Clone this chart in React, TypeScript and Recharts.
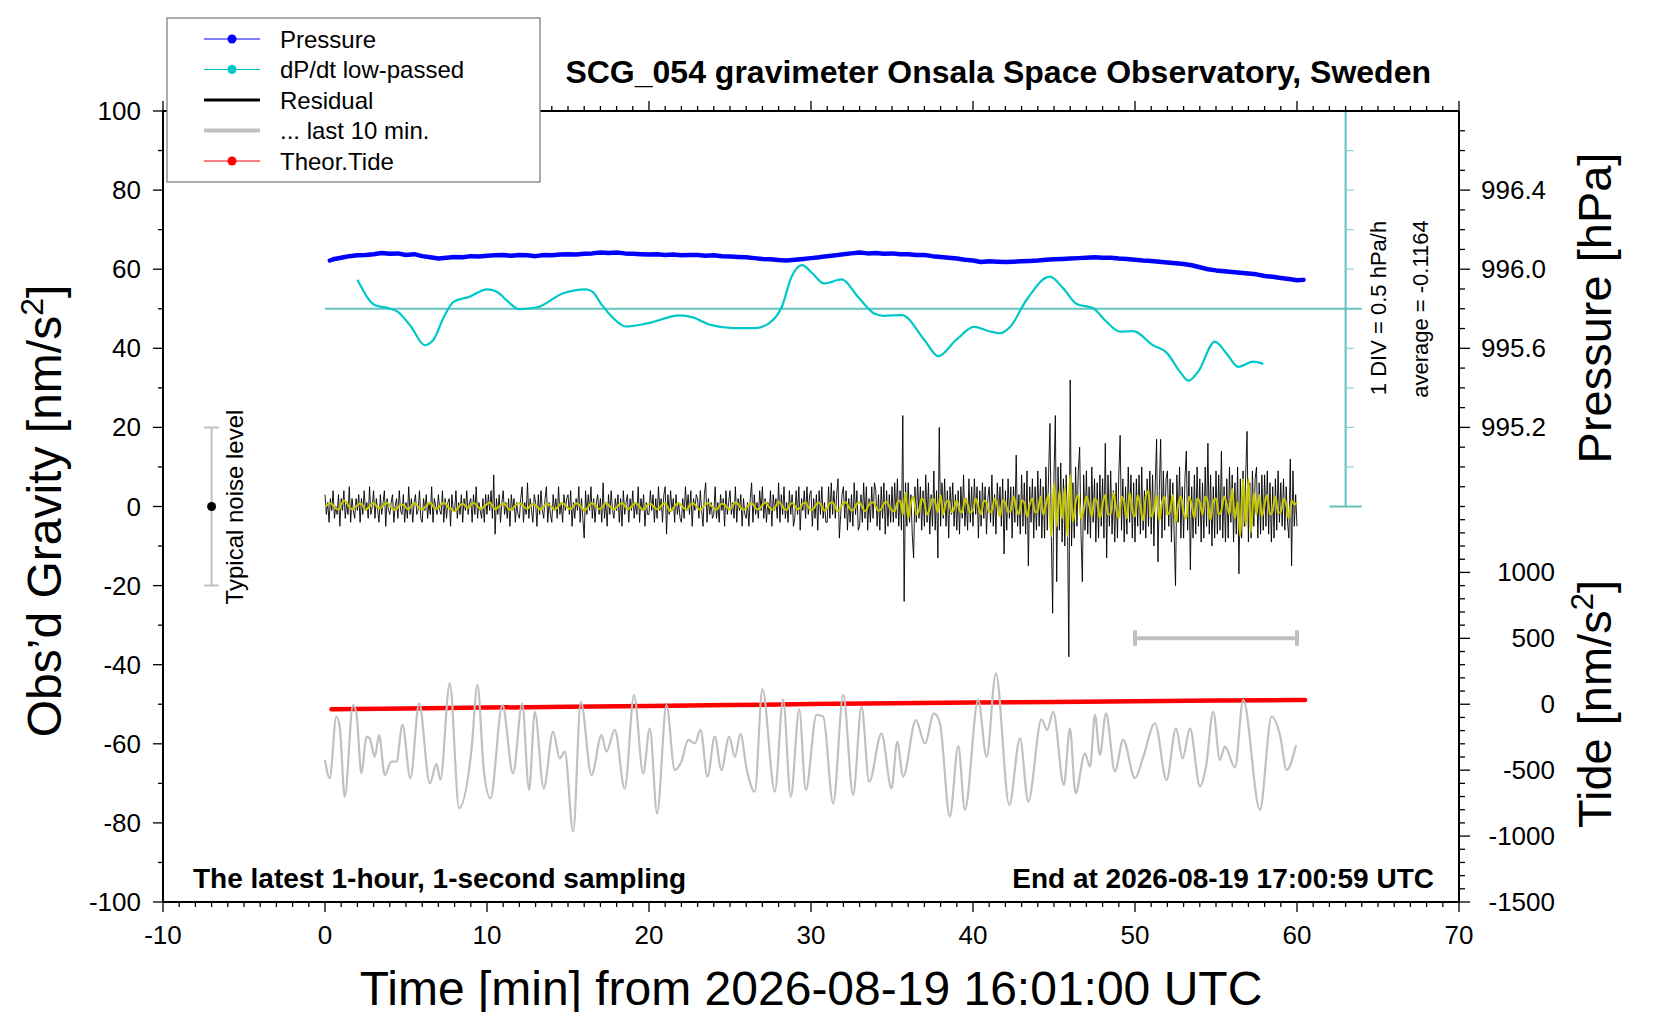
import React from 'react';
import { LineChart, Line, XAxis, YAxis } from 'recharts';

const FONT = '"Liberation Sans", Arial, Helvetica, sans-serif';

// ---------------- data ----------------
// time [min] , pressure [hPa]
const pressureHpa: [number, number][] = [
  [0.3, 996.044], [0.5, 996.05], [1, 996.058], [1.5, 996.066], [2, 996.07], [2.5, 996.072], [3, 996.076], [3.5, 996.082],
  [4, 996.078], [4.5, 996.08], [5, 996.072], [5.5, 996.076], [6, 996.066], [6.5, 996.06], [7, 996.054], [7.5, 996.058],
  [8, 996.062], [8.5, 996.06], [9, 996.066], [9.5, 996.064], [10, 996.068], [10.5, 996.07], [11, 996.072], [11.5, 996.068],
  [12, 996.072], [12.5, 996.07], [13, 996.066], [13.5, 996.072], [14, 996.07], [14.5, 996.074], [15, 996.076], [15.5, 996.074],
  [16, 996.078], [16.5, 996.08], [17, 996.084], [17.5, 996.082], [18, 996.084], [18.5, 996.08], [19, 996.078], [19.5, 996.076],
  [20, 996.074], [20.5, 996.076], [21, 996.072], [21.5, 996.074], [22, 996.07], [22.5, 996.072], [23, 996.072], [23.5, 996.068],
  [24, 996.07], [24.5, 996.066], [25, 996.064], [25.5, 996.062], [26, 996.06], [26.5, 996.056], [27, 996.052], [27.5, 996.05],
  [28, 996.046], [28.5, 996.044], [29, 996.048], [29.5, 996.052], [30, 996.056], [30.5, 996.06], [31, 996.066], [31.5, 996.07],
  [32, 996.076], [32.5, 996.08], [33, 996.084], [33.5, 996.08], [34, 996.082], [34.5, 996.078], [35, 996.08], [35.5, 996.076],
  [36, 996.076], [36.5, 996.072], [37, 996.072], [37.5, 996.066], [38, 996.062], [38.5, 996.058], [39, 996.054], [39.5, 996.048],
  [40, 996.044], [40.5, 996.036], [41, 996.04], [41.5, 996.038], [42, 996.036], [42.5, 996.038], [43, 996.04], [43.5, 996.042],
  [44, 996.044], [44.5, 996.048], [45, 996.05], [45.5, 996.052], [46, 996.054], [46.5, 996.056], [47, 996.058], [47.5, 996.06],
  [48, 996.058], [48.5, 996.058], [49, 996.054], [49.5, 996.052], [50, 996.048], [50.5, 996.044], [51, 996.042], [51.5, 996.038],
  [52, 996.034], [52.5, 996.03], [53, 996.026], [53.5, 996.02], [54, 996.01], [54.5, 996.0], [55, 995.994], [55.5, 995.99],
  [56, 995.986], [56.5, 995.982], [57, 995.978], [57.5, 995.974], [58, 995.966], [58.5, 995.962], [59, 995.956], [59.5, 995.95],
  [60, 995.944], [60.4, 995.946],
];

// time [min], dP/dt low-passed [hPa/h]
const DPDT_AVERAGE = -0.1164;
const dpdtLowPassed: [number, number][] = [
  [2.0, 0.249], [3.1, -0.072], [3.95, -0.111], [4.5, -0.156], [5.3, -0.341], [6.16, -0.576], [6.7, -0.506], [7.3, -0.236],
  [7.95, -0.026], [8.9, 0.034], [10.0, 0.129], [10.6, 0.099], [11.3, -0.026], [11.95, -0.121], [13.05, -0.101], [14.7, 0.079],
  [16.1, 0.129], [16.5, 0.099], [17.1, -0.071], [17.7, -0.216], [18.56, -0.341], [19.9, -0.301], [21.9, -0.201], [22.7, -0.226],
  [23.8, -0.321], [25.2, -0.361], [26.55, -0.361], [27.4, -0.301], [28.2, -0.091], [28.8, 0.289], [29.45, 0.436], [30.1, 0.329],
  [30.8, 0.204], [31.9, 0.254], [32.9, 0.034], [33.9, -0.176], [34.5, -0.206], [35.6, -0.196], [37.0, -0.511], [37.85, -0.716],
  [38.96, -0.511], [40.06, -0.346], [41.0, -0.401], [41.66, -0.426], [42.3, -0.344], [43.3, -0.006], [44.74, 0.289], [45.57, 0.141],
  [46.4, -0.056], [47.42, -0.111], [48.24, -0.281], [49.07, -0.406], [49.9, -0.399], [51.1, -0.576], [51.95, -0.671], [52.77, -0.911],
  [53.3, -1.026], [53.9, -0.911], [54.93, -0.531], [55.65, -0.681], [56.37, -0.851], [57.3, -0.786], [57.92, -0.816],
];

// residual [nm/s^2], one value every 5 s from t = 0 min (12 per minute)
const residualNm: number[] = [
  3, -2, 1, -4, 2, -1, 4, -3, 0, -2, 3, -5,
  2, -1, 4, -3, 1, -2, 5, -4, 2, -1, -3, 2,
  -1, 3, -4, 2, -2, 4, -1, 1, -3, 5, -2, 0,
  4, -3, 2, -1, -4, 3, -2, 1, 4, -5, 2, -1,
  -2, 1, 3, -4, 0, 2, -3, 4, -1, -2, 3, -4,
  1, -3, 5, -2, 2, -4, 1, 3, -2, -1, 4, -3,
  -4, 2, -1, 3, -3, 1, -2, 5, -4, 2, 0, -2,
  3, -1, -2, 4, -4, 2, -3, 1, 2, -5, 3, -1,
  -1, 4, -3, 1, -2, 3, -4, 2, -1, 4, -2, 1,
  2, -4, 3, -2, 5, -3, 1, -1, -3, 2, -4, 3,
  -2, 3, -1, 4, -3, 8, -7, 2, -2, 3, -4, 1,
  4, -2, 1, -3, 2, -5, 3, -1, 2, -4, 1, -2,
  -3, 2, 5, -4, 1, -2, 6, -3, 2, -1, -4, 3,
  1, -5, 3, -2, 4, -1, -3, 2, 5, -4, 1, -2,
  -4, 3, -1, 2, -3, 5, -2, 1, -4, 3, -1, 2,
  3, -2, 4, -5, 1, -3, 2, -1, 5, -4, 2, -3,
  -8, 4, -2, 3, -1, 5, -3, 2, -4, 1, 3, -2,
  2, -4, 6, -3, 1, -5, 3, -2, 4, -1, -3, 2,
  -1, 3, -4, 2, -5, 4, -2, 1, 3, -4, 2, -1,
  4, -3, 1, -2, 5, -4, 2, -1, 3, -5, 1, -2,
  -2, 4, -1, 3, -4, 2, -3, 5, -1, 2, -4, 3,
  5, -7, 3, -2, 4, -1, 2, -4, 3, -2, 1, -3,
  -4, 2, -3, 5, -1, 3, -2, 4, -5, 2, -1, 3,
  2, -3, 4, -1, -5, 3, 6, -4, 2, -2, 1, -3,
  -2, 5, -3, 1, -4, 3, -1, 2, -5, 4, -2, 1,
  4, -2, 1, -3, 5, -4, 2, -1, 3, -5, 2, -2,
  -3, 1, -5, 2, 6, -4, 3, -2, 1, -3, 4, -1,
  5, -3, 2, -4, 1, -2, 4, -5, 3, -1, 2, -3,
  6, -4, 3, -2, 5, -3, 1, -4, 4, -2, 3, -5,
  -3, 4, -2, 5, -6, 2, -1, 4, -3, 5, -2, 3,
  4, -5, 2, -3, 3, -6, 4, -2, 5, -3, 1, -4,
  -4, 5, -3, 6, -2, 4, -3, 3, 7, -8, -2, 3,
  5, -3, 4, -6, 2, -4, 3, -5, 6, -2, 4, -6,
  -5, 3, -4, 6, -3, 5, -6, 2, -4, 5, -3, 6,
  4, -5, 3, -6, 5, -3, 6, -7, 4, -5, 3, -4,
  5, -4, 6, -3, 7, -5, 4, -6, 23, -24, 6, -5,
  6, -4, 3, -7, -13, 5, -4, 7, -3, 5, -6, 4,
  -5, 8, -4, 6, -7, 3, -5, 9, -6, 4, -13, 20,
  -5, 6, -3, 7, -5, 4, -8, 5, -2, 6, -5, 3,
  -6, 4, -7, 5, -3, 8, -5, 2, -6, 7, -4, 5,
  -5, 7, -2, 5, -8, 4, -5, 6, -3, 5, -7, 2,
  5, -4, 8, -5, 3, -7, 6, -2, 5, -5, 7, -12,
  4, -6, 7, -3, 5, -8, 5, -4, 13, -5, 3, -7,
  8, -5, 6, -7, 9, -15, 5, -4, 7, -8, 5, -6,
  9, -5, 7, -8, 5, -8, 10, -6, 8, 21, -7, -27,
  8, 23, -19, 10, -6, 11, -9, 7, -10, 8, -5, -38,
  32, -10, 6, -8, 10, -5, 9, 15, -7, -19, 8, -6,
  9, -7, 5, -8, 10, -4, 7, -9, 6, -8, 8, -5,
  7, -8, 16, -13, 8, -5, 9, -7, 4, -9, 6, -8,
  8, 18, -6, 7, -9, 5, -7, 10, -4, 8, -8, 6,
  -9, 7, -5, 8, -7, 10, -6, 4, -8, 7, -5, 9,
  -7, 8, -10, 6, 17, -14, 4, 17, -8, 9, -6, 7,
  9, -5, 7, -9, 6, -7, -20, 8, -4, 10, -8, 5,
  -8, 7, 14, -6, 9, -16, 5, -8, 8, -7, 10, -5,
  7, -9, 6, -8, 10, -5, 16, -7, 8, -10, 5, -8,
  9, -7, 8, -6, 14, -8, 5, -9, 7, -8, 10, -4,
  8, -9, 6, -7, 10, -17, 7, -8, 9, -5, 8, 19,
  -9, 6, -8, 9, -5, 7, 10, -8, 6, -7, 8, -6,
  8, -5, 9, -7, 6, -9, 5, -8, 7, -6, 9, -4,
  6, -5, 7, -6, 5, -4, -8, 12, -15, 9, -5, 3,
  -5,
];

// low-passed residual [nm/s^2], one value every 10 s from t = 0 min (6 per minute)
const residualLowPassed: number[] = [
  0, 0.5, 0.8, 0.3, -0.5, -0.8, 0.5, 1.5, 1, 0, -0.7, -0.3, 0.3, 0.8, 0.2, -0.8, -0.4, 0.5,
  0.8, 0.2, -0.5, -0.2, 0.6, 0.9, 0.3, -0.6, -0.9, -0.2, 0.5, 0.4, -0.3, -0.7, 0.2, 0.8, 0.4, -0.4,
  -0.8, -0.2, 0.6, 0.9, 0.1, -0.6, -0.3, 0.5, 1, 0.4, -0.4, -0.7, -1.2, -0.6, 0.3, 0.7, 0.2, -0.3,
  0.4, 0.9, 0.5, -0.3, -0.6, 0.1, 0.6, 1, 0.2, -0.7, -0.3, 0.4, 0.8, 0.3, -0.6, -0.9, -0.1, 0.5,
  0.9, 0.4, -0.3, -0.6, 0.2, 0.7, 0.3, -0.4, -0.8, 0, 0.7, 0.4, -0.2, -0.8, -0.3, 0.5, 0.9, 0.3,
  -0.4, -0.7, 0.1, 0.8, 0.5, -0.2, -1, -0.5, 0.4, 0.9, 0.3, -0.4, -0.6, 0.2, 0.8, 0.4, -0.3, -0.7,
  -0.2, 0.5, 0.9, 0.2, -0.6, -0.4, 0.3, 0.9, 0.4, -0.5, -0.8, 0, 0.7, 0.5, -0.2, -0.7, -0.2, 0.6,
  0.9, -0.3, -1.2, -0.4, 0.5, 0.8, 0.3, -0.5, -0.7, 0.1, 0.8, 0.5, -0.4, -0.9, -0.2, 0.6, 0.9, 0.2,
  -0.5, -0.8, 0.1, 0.7, 0.4, -0.3, -0.7, 0.2, 1.1, 0.6, -0.4, -0.8, -0.3, 0.5, 0.8, 0.1, -0.7, -0.5,
  0.4, 1, 0.3, -0.6, -0.8, 0.2, 1.2, 0.5, -0.6, -0.9, 0.3, 0.9, 0.2, -0.7, -0.4, 0.8, 1, -0.2,
  -0.9, -0.5, 0.6, 1, 0, -1, -0.4, 0.9, 1.1, -0.3, -1.2, -0.2, 0.8, 1.1, -0.2, -1, -0.6, 0.7,
  1, -0.3, -1.2, -0.2, 0.9, 1.1, -0.1, -1.1, -0.6, 0.7, 1.2, 0,
  -1, -1.2, 1, 1.5, -2, 3.5, -3, 1, 2.5, -2, -1, 2, 1, -2, -0.5, 2, 1, -1.5,
  3, -2, 1, 1.5, -1.5, -0.5, 1.5, -1, -1.5, 2, 0.5, -1.5, -1, 2, 0, -2, 1.5, 1,
  -1.5, -1, 2, 0.5, -2.5, 1.5, 1, -1.5, -1, 2.5, -0.5, -2, 1.5, 1, -2.5, 0.5, 2, -1.5,
  -1, 2.5, -2, 0.5, 3, -7.5, 6, -5, 4, -3, 5, -7.5, 8, -4, 1, 3, -3, -1,
  2.5, 0.5, -2.5, 2, 1, -3, 0.5, 3, -2, -2, 3.5, -0.5, -3, 2.5, 1, -3, 3.5, -1,
  -2.5, 3, 0, -3.5, 2.5, 4, -2.5, -1, 3, -3.5, 1, 2.5, -2, -1, 3, -4, 0.5, 2.5,
  -1.5, -3, 2.5, 0.5, -3, 2, 1, -2, 2.5, 1, -3.5, 1.5, 2, -2, -1, 2.5, 0.5, -2,
  4.5, -3, 1, -7.5, 7, -5, 7, -6.5, 3.5, -2, 3, -2.5, 0.5, 3, -2, -1, 2.5, -1.5,
  -1.5, 2, 0.5, -3, 1.5, 0.5,
  1,
];

// "... last 10 min." trace as plotted (offset residual), time [min], value
const last10MinTrace: [number, number][] = [
  [0, -64.1], [0.29, -68.7], [0.7, -53.1], [0.91, -55.7], [1.22, -73.4], [1.73, -50.2], [1.94, -52.3], [2.25, -67.5],
  [2.56, -58.2], [2.76, -58.6], [3.07, -63.3], [3.34, -57.8], [3.69, -67.9], [4.1, -64.5], [4.41, -64.5], [4.78, -55.2],
  [5.27, -68.7], [5.81, -49.8], [6.47, -70.0], [6.88, -65.1], [7.12, -69.1], [7.7, -44.7], [8.28, -76.3], [9.04, -61.6],
  [9.41, -45.1], [9.8, -66.6], [10.21, -73.8], [10.95, -50.2], [11.61, -67.5], [12.17, -49.8], [12.6, -71.7], [12.95, -51.9],
  [13.5, -71.3], [14.08, -56.9], [14.49, -63.7], [14.8, -62.0], [15.32, -82.2], [15.79, -49.3], [16.45, -67.9], [17.07, -57.8],
  [17.37, -62.0], [17.89, -56.5], [18.5, -71.3], [19.08, -47.7], [19.64, -67.5], [20.05, -56.1], [20.5, -77.6], [21.08, -50.2],
  [21.59, -66.6], [22.0, -64.5], [22.42, -59.0], [22.83, -59.9], [23.18, -56.5], [23.61, -68.3], [24.06, -58.2], [24.47, -66.6],
  [24.95, -58.2], [25.3, -63.3], [25.65, -57.5], [26.02, -66.2], [26.53, -72.1], [27.0, -46.2], [27.77, -72.1], [28.28, -48.8],
  [28.75, -73.4], [29.27, -51.3], [29.68, -71.7], [30.34, -52.7], [30.75, -53.1], [31.37, -75.1], [31.99, -47.7], [32.6, -72.9],
  [33.12, -50.6], [33.59, -69.6], [34.35, -57.4], [34.97, -71.3], [35.32, -59.5], [35.69, -68.3], [36.47, -54.0], [37.03, -59.9],
  [37.59, -52.3], [37.96, -54.8], [38.57, -78.4], [39.09, -60.6], [39.5, -76.7], [40.32, -48.9], [40.84, -63.3], [41.41, -42.2],
  [42.24, -75.5], [42.9, -58.6], [43.41, -74.6], [44.23, -53.8], [44.58, -56.5], [44.95, -51.9], [45.61, -70.4], [45.98, -56.1],
  [46.33, -72.5], [46.91, -62.4], [47.22, -65.8], [47.53, -52.7], [47.83, -62.8], [48.21, -52.3], [48.76, -67.0], [49.27, -59.0],
  [50.0, -68.7], [50.51, -63.3], [51.23, -54.8], [51.95, -69.1], [52.53, -56.1], [52.94, -63.7], [53.39, -56.1], [54.01, -70.8],
  [54.38, -65.8], [54.83, -51.9], [55.24, -64.1], [55.55, -60.7], [56.17, -66.0], [56.68, -48.9], [57.71, -76.7], [58.43, -53.1],
  [58.95, -57.8], [59.36, -66.6], [59.94, -60.3],
];

// time [min], theoretical tide [nm/s^2]
const theorTide: [number, number][] = [
  [0.4, -38.5], [5, -32], [10, -25.5], [15, -19], [20, -12.5], [25, -6], [30, 1], [35, 7],
  [40, 13], [45, 18], [50, 23], [55, 28], [60, 32.5], [60.5, 33],
];

// tick labels
const gravityTickLabels = [-100, -80, -60, -40, -20, 0, 20, 40, 60, 80, 100];
const timeTickLabels = [-10, 0, 10, 20, 30, 40, 50, 60, 70];
const pressureTickLabels = [995.2, 995.6, 996.0, 996.4];
const tideTickLabels = [-1500, -1000, -500, 0, 500, 1000];

// ---------------- mapping onto the gravity axis ----------------
const pToG = (p: number) => 60 + (p - 996.0) * 50; // 0.4 hPa per 20 nm/s^2
const tideToG = (t: number) => -50 + t / 30; // 500 nm/s^2 per 16.67
const dpdtToG = (d: number) => 50 + (d - DPDT_AVERAGE) * 20; // 0.5 hPa/h per 10

const pressureData = pressureHpa.map(([t, p]) => ({ t, v: pToG(p) }));
const dpdtData = dpdtLowPassed.map(([t, d]) => ({ t, v: dpdtToG(d) }));
const residualData = residualNm.map((v, i) => ({ t: i / 12, v }));
const lowPassData = residualLowPassed.map((v, i) => ({ t: i / 6, v }));
const last10Data = last10MinTrace.map(([t, v]) => ({ t, v }));
const tideData = theorTide.map(([t, v]) => ({ t, v: tideToG(v) }));

// decorations in data coordinates
const avgLine = [{ t: 0, v: 50 }, { t: 64, v: 50 }];
const divBar = [
  { t: 62, v: 100 }, { t: 64, v: 100 }, { t: 63, v: null }, { t: 63, v: 100 }, { t: 63, v: 0 }, { t: 63, v: null },
  { t: 62, v: 0 }, { t: 64, v: 0 },
];
const divTickLevels = [10, 20, 30, 40, 60, 70, 80, 90];
const divTicks = divTickLevels.flatMap((lv) => [{ t: 63, v: lv }, { t: 63.5, v: lv }, { t: 63.2, v: null }]);
const last10Bar = [
  { t: 50, v: -35.3 }, { t: 50, v: -31.3 }, { t: 50, v: null }, { t: 50, v: -33.3 }, { t: 60, v: -33.3 }, { t: 60, v: null },
  { t: 60, v: -35.3 }, { t: 60, v: -31.3 },
];
const noiseBar = [
  { t: -7.45, v: 20 }, { t: -6.55, v: 20 }, { t: -7, v: null }, { t: -7, v: 20 }, { t: -7, v: -20 }, { t: -7, v: null },
  { t: -7.45, v: -20 }, { t: -6.55, v: -20 },
];
const noiseDot = [{ t: -7, v: 0 }];

// ---------------- geometry ----------------
const W = 1644;
const H = 1004;
const PLOT_L = 155;
const PLOT_R = 1451;
const PLOT_T = 103;
const PLOT_B = 894;

const xTicks: number[] = [];
for (let k = -10; k <= 70; k++) xTicks.push(k);
const yTicks: number[] = [];
for (let k = -100; k <= 100; k += 10) yTicks.push(k);

type RT = { v: number; major: boolean; label?: string; side: 'p' | 't' };
const rightTickDefs: RT[] = [];
for (let k = 0; k < 20; k++) {
  const p = 994.8 + 0.1 * k;
  const lab = pressureTickLabels.find((m) => Math.abs(m - p) < 1e-6);
  rightTickDefs.push({ v: pToG(p), major: lab !== undefined, label: lab !== undefined ? lab.toFixed(1) : undefined, side: 'p' });
}
for (let k = 0; k < 30; k++) {
  const T = -1500 + 100 * k;
  const lab = tideTickLabels.find((m) => m === T);
  rightTickDefs.push({ v: tideToG(T), major: lab !== undefined, label: lab !== undefined ? String(lab) : undefined, side: 't' });
}
const rightTicks = rightTickDefs.map((d) => d.v);

const BottomTick = (props: any) => {
  const { x, payload } = props;
  const v = payload.value;
  const major = timeTickLabels.includes(Math.round(v)) && Math.abs(v - Math.round(v)) < 1e-6;
  return (
    <g>
      <line x1={x} x2={x} y1={PLOT_B} y2={PLOT_B + (major ? 10 : 5)} stroke="#000" strokeWidth={1.3} />
      {major && (
        <text x={x} y={PLOT_B + 42} textAnchor="middle" fontSize={26} fontFamily={FONT} fill="#000">
          {v}
        </text>
      )}
    </g>
  );
};

const TopTick = (props: any) => {
  const { x, payload } = props;
  const v = payload.value;
  const major = timeTickLabels.includes(Math.round(v));
  return <line x1={x} x2={x} y1={PLOT_T} y2={PLOT_T - (major ? 10 : 5)} stroke="#000" strokeWidth={1.3} />;
};

const LeftTick = (props: any) => {
  const { y, payload } = props;
  const v = payload.value;
  const major = gravityTickLabels.includes(Math.round(v));
  return (
    <g>
      <line x1={PLOT_L - (major ? 10 : 5)} x2={PLOT_L} y1={y} y2={y} stroke="#000" strokeWidth={1.3} />
      {major && (
        <text x={PLOT_L - 22} y={y + 9} textAnchor="end" fontSize={26} fontFamily={FONT} fill="#000">
          {v}
        </text>
      )}
    </g>
  );
};

const RightTick = (props: any) => {
  const { y, payload } = props;
  const v = payload.value;
  let best = rightTickDefs[0];
  for (const d of rightTickDefs) if (Math.abs(d.v - v) < Math.abs(best.v - v)) best = d;
  return (
    <g>
      <line x1={PLOT_R} x2={PLOT_R + (best.major ? 11 : 6)} y1={y} y2={y} stroke="#000" strokeWidth={1.3} />
      {best.major && (
        <text
          x={best.side === 'p' ? PLOT_R + 22 : PLOT_R + 96}
          y={y + 9}
          textAnchor={best.side === 'p' ? 'start' : 'end'}
          fontSize={26}
          fontFamily={FONT}
          fill="#000"
        >
          {best.label}
        </text>
      )}
    </g>
  );
};

const legendRows = [
  { label: 'Pressure', color: '#0000ff', width: 1, dot: true },
  { label: 'dP/dt low-passed', color: '#00c8c8', width: 1, dot: true },
  { label: 'Residual', color: '#000000', width: 3, dot: false },
  { label: '... last 10 min.', color: '#c0c0c0', width: 4, dot: false },
  { label: 'Theor.Tide', color: '#ff0000', width: 1, dot: true },
];

const common = { xAxisId: 'b', yAxisId: 'l', dataKey: 'v', isAnimationActive: false, dot: false, activeDot: false } as const;

export default function App() {
  return (
    <div style={{ position: 'relative', width: W, height: H, background: '#fff', fontFamily: FONT }}>
      <LineChart
        width={W}
        height={H}
        margin={{ top: PLOT_T - 30, right: W - PLOT_R - 120, bottom: H - PLOT_B - 60, left: PLOT_L - 150 }}
      >
        <XAxis
          xAxisId="b"
          dataKey="t"
          type="number"
          orientation="bottom"
          domain={[-10, 70]}
          allowDataOverflow
          ticks={xTicks}
          interval={0}
          tick={BottomTick}
          tickLine={false}
          tickSize={0}
          tickMargin={0}
          axisLine={{ stroke: '#000', strokeWidth: 2 }}
          height={60}
        />
        <XAxis
          xAxisId="top"
          dataKey="t"
          type="number"
          orientation="top"
          domain={[-10, 70]}
          allowDataOverflow
          ticks={xTicks}
          interval={0}
          tick={TopTick}
          tickLine={false}
          tickSize={0}
          tickMargin={0}
          axisLine={{ stroke: '#000', strokeWidth: 2 }}
          height={30}
        />
        <YAxis
          yAxisId="l"
          type="number"
          orientation="left"
          domain={[-100, 100]}
          allowDataOverflow
          ticks={yTicks}
          interval={0}
          tick={LeftTick}
          tickLine={false}
          tickSize={0}
          tickMargin={0}
          axisLine={{ stroke: '#000', strokeWidth: 2 }}
          width={150}
        />
        <YAxis
          yAxisId="r"
          type="number"
          orientation="right"
          domain={[-100, 100]}
          allowDataOverflow
          ticks={rightTicks}
          interval={0}
          tick={RightTick}
          tickLine={false}
          tickSize={0}
          tickMargin={0}
          axisLine={{ stroke: '#000', strokeWidth: 2 }}
          width={120}
        />

        {/* dP/dt scale decorations */}
        <Line {...common} data={avgLine} stroke="#66c2bf" strokeWidth={2} />
        <Line {...common} data={divBar} stroke="#66c2bf" strokeWidth={2} connectNulls={false} />
        <Line {...common} data={divTicks} stroke="#8fd3d0" strokeWidth={1.3} connectNulls={false} />

        {/* series */}
        <Line {...common} data={dpdtData} type="monotone" stroke="#00c8c8" strokeWidth={2.2} />
        <Line {...common} data={pressureData} stroke="#0000ff" strokeWidth={4.5} strokeLinecap="round" strokeLinejoin="round" />
        <Line {...common} data={residualData} stroke="#000000" strokeWidth={0.9} />
        <Line {...common} data={lowPassData} type="monotone" stroke="#c8c800" strokeWidth={2} />
        <Line {...common} data={tideData} stroke="#ff0000" strokeWidth={4.5} strokeLinecap="round" />
        <Line {...common} data={last10Data} type="monotone" stroke="#c0c0c0" strokeWidth={2.2} />

        {/* markers */}
        <Line {...common} data={last10Bar} stroke="#c0c0c0" strokeWidth={4} connectNulls={false} />
        <Line {...common} data={noiseBar} stroke="#c0c0c0" strokeWidth={2} connectNulls={false} />
        <Line {...common} data={noiseDot} stroke="#000" strokeWidth={0} dot={{ r: 4.5, fill: '#000', stroke: 'none' }} />
      </LineChart>

      <svg
        width={W}
        height={H + 8}
        style={{ position: 'absolute', left: 0, top: 0, pointerEvents: 'none', fontFamily: FONT, overflow: 'visible' }}
      >
        {/* title */}
        <text x={1423} y={75} textAnchor="end" fontSize={32} fontWeight="bold" fill="#000">
          SCG_054 gravimeter Onsala Space Observatory, Sweden
        </text>
        <text x={185} y={880} fontSize={28} fontWeight="bold" fill="#000">
          The latest 1-hour, 1-second sampling
        </text>
        <text x={1426} y={880} textAnchor="end" fontSize={28} fontWeight="bold" fill="#000">
          End at 2026-08-19 17:00:59 UTC
        </text>

        {/* axis titles */}
        <text x={803} y={997} textAnchor="middle" fontSize={48} fill="#000">
          Time [min] from 2026-08-19 16:01:00 UTC
        </text>
        <text transform="translate(53,503) rotate(-90)" textAnchor="middle" fontSize={48} fill="#000">
          Obs’d Gravity [nm/s<tspan dy={-18} fontSize={32}>2</tspan>
          <tspan dy={18}>]</tspan>
        </text>
        <text transform="translate(1603,300) rotate(-90)" textAnchor="middle" fontSize={47} fill="#000">
          Pressure [hPa]
        </text>
        <text transform="translate(1603,696) rotate(-90)" textAnchor="middle" fontSize={47} fill="#000">
          Tide [nm/s<tspan dy={-18} fontSize={31}>2</tspan>
          <tspan dy={18}>]</tspan>
        </text>

        {/* annotations */}
        <text transform="translate(1378,300) rotate(-90)" textAnchor="middle" fontSize={22} fill="#000">
          1 DIV = 0.5 hPa/h
        </text>
        <text transform="translate(1420,301) rotate(-90)" textAnchor="middle" fontSize={22} fill="#000">
          average = -0.1164
        </text>
        <text transform="translate(235,499) rotate(-90)" textAnchor="middle" fontSize={24} fill="#000">
          Typical noise level
        </text>

        {/* legend */}
        <rect x={159} y={10} width={373} height={164} fill="#fff" stroke="#808080" strokeWidth={1.3} />
        {legendRows.map((r, i) => {
          const cy = 31 + i * 30.5;
          return (
            <g key={r.label}>
              <line x1={196} x2={252} y1={cy} y2={cy} stroke={r.color} strokeWidth={r.width} />
              {r.dot && <circle cx={224} cy={cy} r={4.5} fill={r.color} />}
              <text x={272} y={cy + 8.5} fontSize={24} fill="#000">
                {r.label}
              </text>
            </g>
          );
        })}
      </svg>
    </div>
  );
}
